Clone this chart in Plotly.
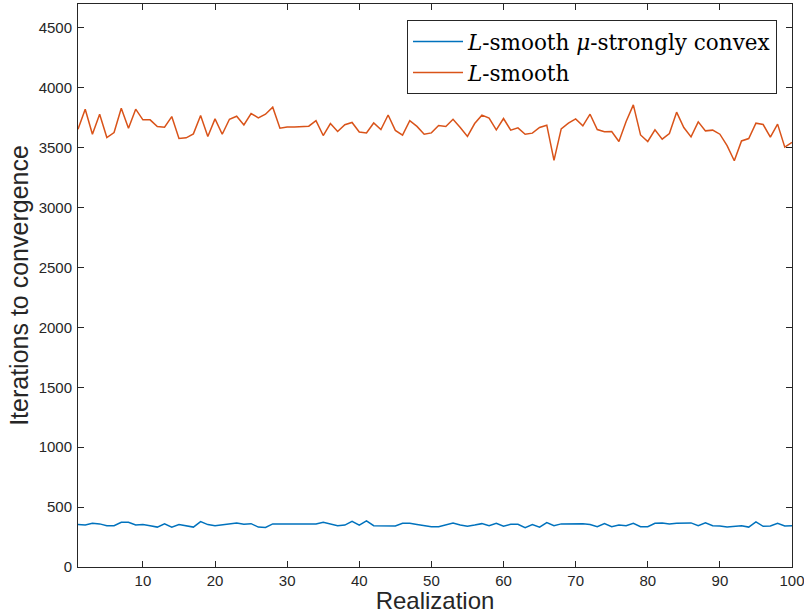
import plotly.graph_objects as go

realization = list(range(1, 101))

iters_strongly_convex = [
    354, 350, 365, 360, 345, 345, 374, 373, 350, 354,
    345, 333, 360, 333, 354, 345, 333, 379, 354, 345,
    354, 365, 368, 357, 362, 333, 330, 360, 360, 360,
    357, 360, 354, 360, 373, 362, 345, 350, 382, 350,
    385, 345, 345, 345, 343, 365, 365, 355, 345, 336,
    336, 350, 368, 350, 340, 350, 362, 345, 365, 340,
    357, 357, 329, 354, 333, 371, 345, 360, 360, 362,
    362, 354, 336, 362, 336, 350, 345, 365, 336, 336,
    365, 368, 360, 365, 368, 368, 345, 368, 345, 343,
    333, 340, 345, 333, 376, 340, 343, 365, 343, 345,
]

iters_smooth = [
    3655, 3822, 3613, 3780, 3585, 3627, 3830, 3663, 3822, 3733,
    3733, 3677, 3672, 3760, 3577, 3583, 3616, 3769, 3594, 3741,
    3613, 3738, 3763, 3691, 3786, 3750, 3780, 3839, 3663, 3674,
    3674, 3677, 3680, 3727, 3602, 3702, 3636, 3692, 3711, 3631,
    3623, 3707, 3652, 3773, 3645, 3605, 3726, 3678, 3613, 3624,
    3685, 3677, 3738, 3669, 3594, 3702, 3772, 3747, 3649, 3744,
    3647, 3666, 3613, 3622, 3669, 3688, 3394, 3658, 3705, 3741,
    3683, 3780, 3652, 3633, 3635, 3552, 3719, 3858, 3607, 3552,
    3649, 3572, 3619, 3797, 3669, 3591, 3716, 3641, 3647, 3613,
    3518, 3391, 3557, 3577, 3705, 3694, 3588, 3697, 3505, 3544,
]

x_ticks = [10, 20, 30, 40, 50, 60, 70, 80, 90, 100]
y_ticks = [0, 500, 1000, 1500, 2000, 2500, 3000, 3500, 4000, 4500]

label_1 = "<i>L</i>-smooth <i>μ</i>-strongly convex"
label_2 = "<i>L</i>-smooth"

fig = go.Figure()
fig.add_trace(go.Scatter(x=realization, y=iters_strongly_convex, mode="lines",
                         line=dict(color="#0072BD", width=1.5), name=label_1))
fig.add_trace(go.Scatter(x=realization, y=iters_smooth, mode="lines",
                         line=dict(color="#D95319", width=1.5), name=label_2))

sans = "Liberation Sans, Arial, sans-serif"
axis_common = dict(
    showline=True, linecolor="#262626", linewidth=1, mirror="ticks",
    ticks="inside", ticklen=6, tickcolor="#262626", tickwidth=1,
    showgrid=False, zeroline=False, automargin=False,
    ticklabeloverflow="allow",
    tickfont=dict(family=sans, size=15, color="#262626"),
)

fig.update_layout(
    width=804, height=614,
    margin=dict(l=78, r=12, t=4, b=47),
    paper_bgcolor="white", plot_bgcolor="white",
    xaxis=dict(range=[1, 100.0001], tickvals=x_ticks, ticktext=[str(v) for v in x_ticks],
               ticklabelstandoff=0,
               title=dict(text="Realization", standoff=9,
                          font=dict(family=sans, size=24, color="#262626")),
               **axis_common),
    yaxis=dict(range=[0, 4700], tickvals=y_ticks, ticktext=[str(v) for v in y_ticks],
               ticklabelstandoff=2,
               title=dict(text="Iterations to convergence", standoff=2,
                          font=dict(family=sans, size=25, color="#262626")),
               **axis_common),
    legend=dict(
        x=0.979, y=0.9716, xanchor="right", yanchor="top",
        bgcolor="white", bordercolor="#262626", borderwidth=1,
        font=dict(family="DejaVu Serif, Liberation Serif, serif", size=21.5, color="black"),
        itemwidth=50,
    ),
    showlegend=True,
)

fig.write_html("out.html", config={"displayModeBar": False},
               post_script="document.body.style.margin='0';document.body.style.padding='0';")
